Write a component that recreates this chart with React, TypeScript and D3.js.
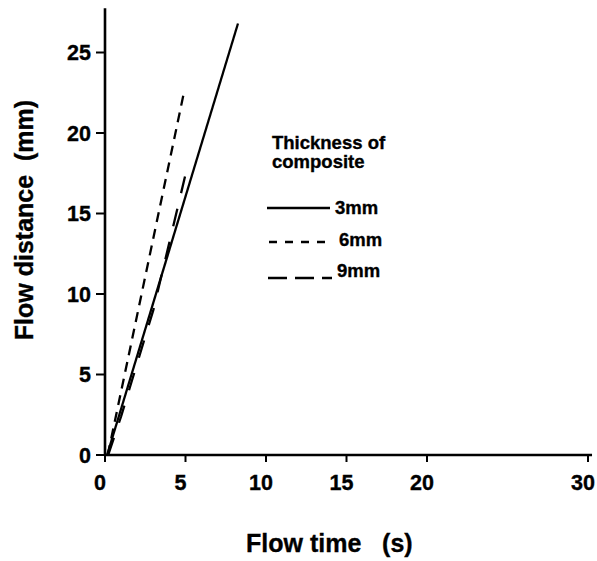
import React from "react";
import * as d3 from "d3";

const xTicks = [0, 5, 10, 15, 20, 30];
const yTicks = [0, 5, 10, 15, 20, 25];

// [time (s), distance (mm)]
const series3mm: [number, number][] = [
  [0.13, 0],
  [8.26, 26.8],
];
const series6mm: [number, number][] = [
  [0.17, 0],
  [4.9, 22.5],
];
const series9mm: [number, number][] = [
  [0.2, 0],
  [1.0, 2.4],
  [3.0, 9.0],
  [4.97, 17.3],
];

const legendLabels = ["3mm", "6mm", "9mm"];

export default function App() {
  const W = 597;
  const H = 561;
  const x = d3.scaleLinear().domain([0, 30]).range([105, 588]);
  const y = d3.scaleLinear().domain([0, 25]).range([455, 52.5]);
  const line = d3
    .line<[number, number]>()
    .x((d) => x(d[0]))
    .y((d) => y(d[1]));
  const font = "'Liberation Sans', Arial, Helvetica, sans-serif";
  const seriesList = [
    { data: series3mm, dash: "none" },
    { data: series6mm, dash: "10 7" },
    { data: series9mm, dash: "18 16" },
  ];
  const legendY = [208, 242, 278];
  const legendX1 = [267, 269, 268];
  const legendX2 = [330, 325, 332];
  const legendDash = ["none", "8 8", "19 8"];
  const legendTextY = [214, 246, 277];
  const legendTextX = [335, 339, 337];
  const txt = { stroke: "#000", strokeWidth: 0.35 };
  return (
    <svg
      width={W}
      height={H}
      style={{ position: "absolute", left: 0, top: 0, background: "#fff" }}
      fontFamily={font}
      fontWeight="bold"
    >
      {/* axes */}
      <line x1={x(0)} x2={x(0)} y1={y(0) + 1} y2={y(27.75)} stroke="#000" strokeWidth={2.6} />
      <line x1={x(0) - 1} x2={x(30.25)} y1={y(0)} y2={y(0)} stroke="#000" strokeWidth={2.6} />
      {yTicks.map((t) => (
        <g key={"y" + t}>
          <line x1={x(0) - 9} x2={x(0)} y1={y(t)} y2={y(t)} stroke="#000" strokeWidth={2} />
          <text x={x(0) - 14} y={y(t)} dy="0.36em" textAnchor="end" fontSize={21.5} {...txt}>
            {t}
          </text>
        </g>
      ))}
      {xTicks.map((t) => (
        <g key={"x" + t}>
          <line x1={x(t)} x2={x(t)} y1={y(0)} y2={y(0) + 7} stroke="#000" strokeWidth={2} />
          <text x={x(t) - 5} y={y(0) + 35} textAnchor="middle" fontSize={21.5} {...txt}>
            {t}
          </text>
        </g>
      ))}
      {/* titles */}
      <text x={246} y={552} fontSize={25} style={{ whiteSpace: "pre" }} {...txt}>
        {"Flow time   (s)"}
      </text>
      <text
        transform="translate(33,220) rotate(-90)"
        textAnchor="middle"
        fontSize={25}
        style={{ whiteSpace: "pre" }}
        {...txt}
      >
        {"Flow distance  (mm)"}
      </text>
      {/* series */}
      {seriesList.map((s, i) => (
        <path
          key={"s" + i}
          d={line(s.data) || ""}
          fill="none"
          stroke="#000"
          strokeWidth={2.3}
          strokeDasharray={s.dash}
        />
      ))}
      {/* legend */}
      <text x={272} y={149} fontSize={18.5} {...txt}>
        Thickness of
      </text>
      <text x={272} y={168} fontSize={18.5} {...txt}>
        composite
      </text>
      {legendLabels.map((lab, i) => (
        <g key={lab}>
          <line
            x1={legendX1[i]}
            x2={legendX2[i]}
            y1={legendY[i]}
            y2={legendY[i]}
            stroke="#000"
            strokeWidth={2.3}
            strokeDasharray={legendDash[i]}
          />
          <text x={legendTextX[i]} y={legendTextY[i]} fontSize={18.5} {...txt}>
            {lab}
          </text>
        </g>
      ))}
    </svg>
  );
}
